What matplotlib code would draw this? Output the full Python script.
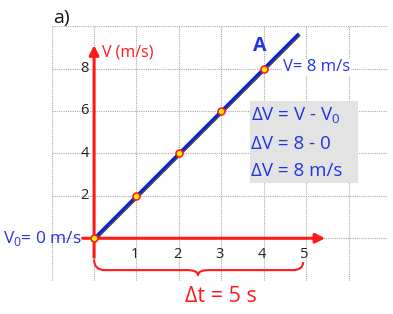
import matplotlib.pyplot as plt
import matplotlib.patheffects as pe
from matplotlib.path import Path
from matplotlib.patches import PathPatch, Rectangle

plt.rcParams['font.family'] = ['Open Sans', 'DejaVu Sans']
plt.rcParams['mathtext.fontset'] = 'custom'
plt.rcParams['mathtext.rm'] = 'Open Sans'

# data
t = [0, 1, 2, 3, 4]
v = [0, 2, 4, 6, 8]
line_t = [0, 4.8]
line_v = [0, 9.6]
xticks = [1, 2, 3, 4, 5]
yticks = [2, 4, 6, 8]
box_lines = [r'ΔV = V - V$_\mathrm{0}$', 'ΔV = 8 - 0', 'ΔV = 8 m/s']

blue = '#2233e6'
red = '#ff1a1a'

fig = plt.figure(figsize=(3.93, 3.14), dpi=100)
ax = fig.add_axes([0.1315, 0.106, 0.8525, 0.811])
ax.set_xlim(-1, 6.9)
ax.set_ylim(-2, 10)
ax.axis('off')

# dotted grid
for gx in [-1, 0, 1, 2, 3, 4, 5, 6, 6.9]:
    ax.plot([gx, gx], [-2, 10], ls=(0, (1, 1)), color='#a8a8a8', lw=0.8, zorder=0)
for gy in [-2, 0, 2, 4, 6, 8, 10]:
    ax.plot([-1, 6.9], [gy, gy], ls=(0, (1, 1)), color='#a8a8a8', lw=0.8, zorder=0)

# red axes with arrows
ax.annotate('', xy=(0, 9.1), xytext=(0, -0.9),
            arrowprops=dict(arrowstyle='-|>', color=red, lw=2.2, mutation_scale=14,
                            shrinkA=0, shrinkB=0), zorder=2)
ax.annotate('', xy=(5.45, 0), xytext=(-0.27, 0),
            arrowprops=dict(arrowstyle='-|>', color=red, lw=2.2, mutation_scale=14,
                            shrinkA=0, shrinkB=0), zorder=2)
ax.text(0.18, 8.75, 'V (m/s)', color=red, fontsize=11.5, va='center', ha='left')

# tick labels
for yt in yticks:
    ax.text(-0.12, yt, str(yt), ha='right', va='center', fontsize=10.5, color='#222222')
for xt in xticks:
    ax.text(xt - 0.04, -0.75, str(xt), ha='center', va='center', fontsize=10.5, color='#222222')

# velocity line and points
ax.plot(line_t, line_v, color='#0a22d8', lw=2.0, zorder=3,
        path_effects=[pe.SimpleLineShadow(offset=(0.8, -0.8), shadow_color='#000000', alpha=0.7),
                      pe.Normal()])
ax.plot(t, v, 'o', ms=5, mfc='#ffee00', mec='#ff2020', mew=1.2, zorder=4)

ax.text(3.9, 9.05, 'A', color=blue, fontsize=14, fontweight='bold', ha='center', va='center')
ax.text(4.45, 8.05, 'V= 8 m/s', color=blue, fontsize=12, ha='left', va='center',
        bbox=dict(facecolor='white', edgecolor='none', pad=0.5))

# gray box with delta V
ax.add_patch(Rectangle((3.67, 2.6), 2.55, 3.85, facecolor='#e3e3e3', edgecolor='none', zorder=1))
for i, s in enumerate(box_lines):
    ax.text(3.7, 5.75 - i * 1.3, s, color=blue, fontsize=13.5, ha='left', va='center', zorder=2)

ax.text(-0.28, 0, r'V$_\mathrm{0}$= 0 m/s', color=blue, fontsize=12.5, ha='right', va='center',
        clip_on=False)

# brace for delta t
verts = [(0, -1.0), (0, -1.5), (0.25, -1.5),
         (2.2, -1.5),
         (2.45, -1.5), (2.45, -1.75),
         (2.45, -1.5), (2.7, -1.5),
         (4.68, -1.5),
         (4.93, -1.5), (4.93, -1.12)]
codes = [Path.MOVETO, Path.CURVE3, Path.CURVE3, Path.LINETO,
         Path.CURVE3, Path.CURVE3, Path.CURVE3, Path.CURVE3,
         Path.LINETO, Path.CURVE3, Path.CURVE3]
ax.add_patch(PathPatch(Path(verts, codes), facecolor='none', edgecolor=red, lw=1.5,
                       clip_on=False))
ax.text(3.0, -2.75, 'Δt = 5 s', color=red, fontsize=15.5, ha='center', va='center', clip_on=False)

fig.text(0.156, 0.943, 'a)', fontsize=14, ha='center', va='center', color='#111111')

fig.savefig('out.png', dpi=100)
